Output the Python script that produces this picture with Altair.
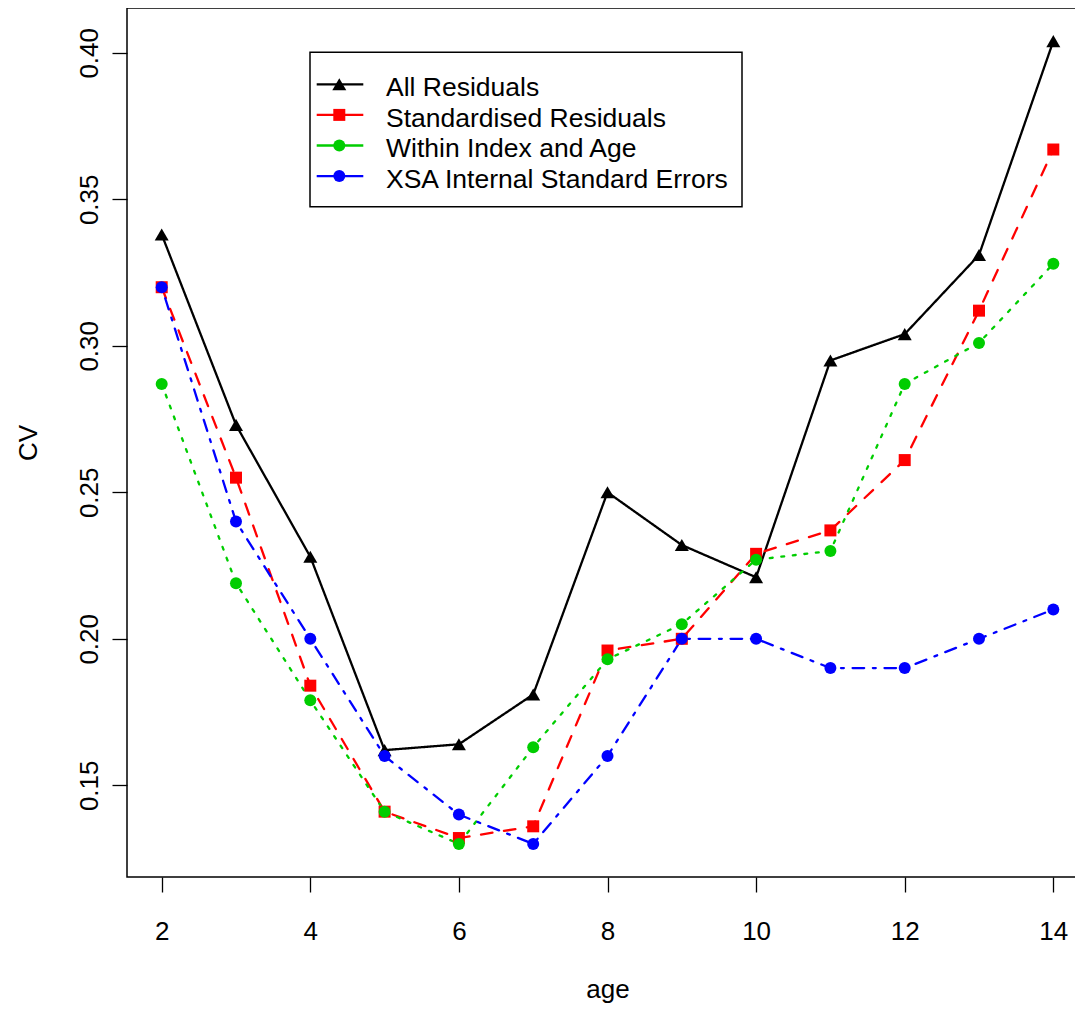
import altair as alt
import pandas as pd

ages = list(range(2, 15))
series_names = ["All Residuals", "Standardised Residuals",
                "Within Index and Age", "XSA Internal Standard Errors"]
all_residuals = [0.338, 0.273, 0.228, 0.162, 0.164, 0.181, 0.250, 0.232, 0.221, 0.295, 0.304, 0.331, 0.404]
standardised = [0.320, 0.255, 0.184, 0.141, 0.132, 0.136, 0.196, 0.200, 0.229, 0.237, 0.261, 0.312, 0.367]
within_index = [0.287, 0.219, 0.179, 0.141, 0.130, 0.163, 0.193, 0.205, 0.227, 0.230, 0.287, 0.301, 0.328]
xsa_internal = [0.320, 0.240, 0.200, 0.160, 0.140, 0.130, 0.160, 0.200, 0.200, 0.190, 0.190, 0.200, 0.210]
x_ticks = [2, 4, 6, 8, 10, 12, 14]
y_ticks = [0.15, 0.20, 0.25, 0.30, 0.35, 0.40]

colors = ["#000000", "#FF0000", "#00CD00", "#0000FF"]
shapes = ["triangle-up", "square", "circle", "circle"]
dashes = [[1, 0], [11.6, 11.6], [2.9, 8.7], [2.9, 8.7, 11.6, 8.7]]

FONT = "Liberation Sans"

rows = []
for i, (name, vals) in enumerate(zip(series_names, [all_residuals, standardised, within_index, xsa_internal])):
    for a, v in zip(ages, vals):
        rows.append({"age": a, "cv": v, "series": name, "order": i})
df = pd.DataFrame(rows)

legend_df = pd.DataFrame({"series": series_names, "idx": list(range(len(series_names)))})

color_scale = alt.Scale(domain=series_names, range=colors)
shape_scale = alt.Scale(domain=series_names, range=shapes)
dash_scale = alt.Scale(domain=series_names, range=dashes)
x_scale = alt.Scale(domain=[1.533, 14.413], nice=False, zero=False)
y_scale = alt.Scale(domain=[0.1187, 0.4153], nice=False, zero=False)

x_axis = alt.Axis(values=x_ticks, format="d", title="age", grid=False, domain=False,
                  tickSize=15, tickColor="black", tickWidth=1.3,
                  labelPadding=47, labelBaseline="alphabetic", labelAlign="center",
                  labelFontSize=26, labelFont=FONT, labelColor="black",
                  labelFlush=False, labelOverlap=False,
                  titleFontSize=26, titleFont=FONT, titleFontWeight="normal", titleColor="black",
                  titleX=480.5, titleY=120, titleAlign="center", titleBaseline="alphabetic")
y_axis = alt.Axis(values=y_ticks, format=".2f", title="CV", grid=False, domain=False,
                  tickSize=15, tickColor="black", tickWidth=1.3,
                  labelAngle=270, labelAlign="center", labelBaseline="alphabetic", labelPadding=15,
                  labelFontSize=26, labelFont=FONT, labelColor="black",
                  labelFlush=False, labelOverlap=False,
                  titleFontSize=26, titleFont=FONT, titleFontWeight="normal", titleColor="black",
                  titleAngle=270, titleX=-91, titleY=434.5, titleAlign="center", titleBaseline="alphabetic")

base = alt.Chart(df)
lines = base.mark_line(strokeWidth=2.3, strokeCap="round").encode(
    x=alt.X("age:Q", scale=x_scale, axis=x_axis),
    y=alt.Y("cv:Q", scale=y_scale, axis=y_axis),
    color=alt.Color("series:N", scale=color_scale, legend=None),
    strokeDash=alt.StrokeDash("series:N", scale=dash_scale, legend=None),
    detail="series:N",
    order="age:Q",
)
points = base.mark_point(filled=True, opacity=1, strokeWidth=0).encode(
    x=alt.X("age:Q", scale=x_scale),
    y=alt.Y("cv:Q", scale=y_scale),
    color=alt.Color("series:N", scale=color_scale, legend=None),
    shape=alt.Shape("series:N", scale=shape_scale, legend=None),
    size=alt.condition("datum.order == 0", alt.value(196), alt.value(144)),
)

# legend (built from the series list)
leg_box = alt.Chart(pd.DataFrame({"k": [0]})).mark_rect(
    fill="white", stroke="black", strokeWidth=1.5
).encode(x=alt.value(183), x2=alt.value(615), y=alt.value(44.3), y2=alt.value(198.7))

leg = alt.Chart(legend_df).transform_calculate(
    ly="76.3 + datum.idx * 30.6", ty="88.0 + datum.idx * 30.6"
)
leg_rules = leg.mark_rule(strokeWidth=2.3).encode(
    x=alt.value(189.7), x2=alt.value(236.3),
    y=alt.Y("ly:Q", scale=None),
    color=alt.Color("series:N", scale=color_scale, legend=None),
)
leg_points = leg.mark_point(filled=True, opacity=1, strokeWidth=0).encode(
    x=alt.value(212.3),
    y=alt.Y("ly:Q", scale=None),
    color=alt.Color("series:N", scale=color_scale, legend=None),
    shape=alt.Shape("series:N", scale=shape_scale, legend=None),
    size=alt.condition("datum.idx == 0", alt.value(196), alt.value(144)),
)
leg_text = leg.mark_text(align="left", baseline="alphabetic", fontSize=26.5, font=FONT, color="black").encode(
    x=alt.value(259),
    y=alt.Y("ty:Q", scale=None),
    text="series:N",
)

chart = alt.layer(lines, points, leg_box, leg_rules, leg_points, leg_text).properties(
    width=957, height=869,
    autosize=alt.AutoSizeParams(type="none"),
    padding={"left": 119, "top": 0, "right": -9, "bottom": 126},
    background="white",
).configure_view(stroke="black", strokeWidth=1.5)

chart.save("out.html", embed_options={"renderer": "svg", "actions": False})
